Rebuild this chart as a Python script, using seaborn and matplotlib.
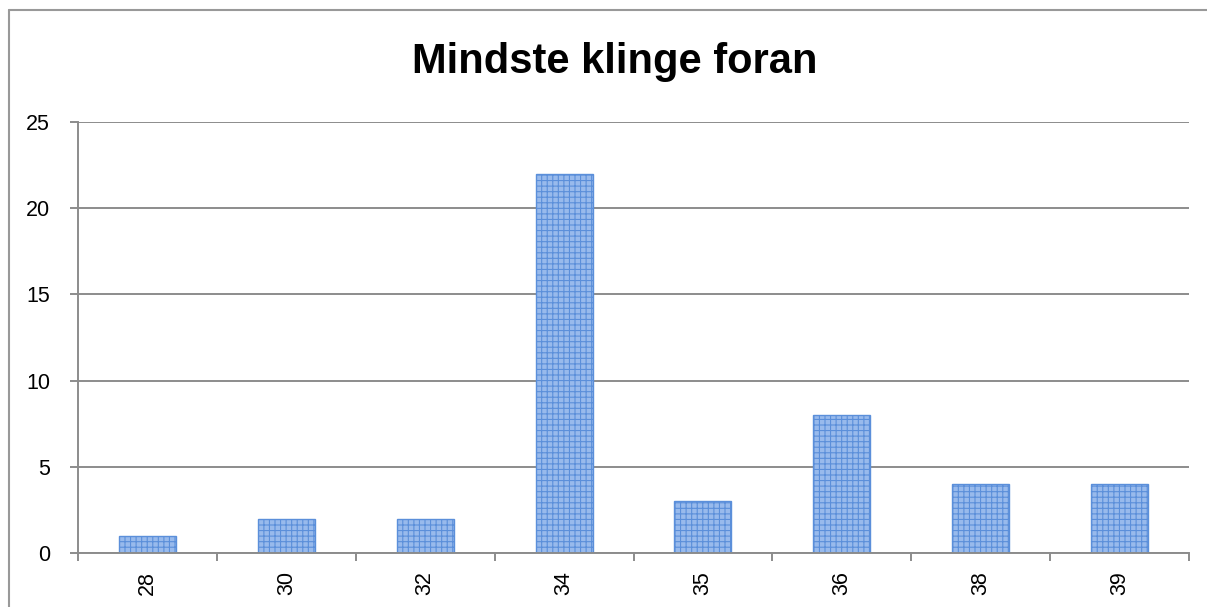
import matplotlib
matplotlib.use("Agg")
import matplotlib.pyplot as plt
import seaborn as sns
import pandas as pd
import numpy as np
from matplotlib.lines import Line2D

categories = ["28", "30", "32", "34", "35", "36", "38", "39"]
values = [1, 2, 2, 22, 3, 8, 4, 4]
yticks = [0, 5, 10, 15, 20, 25]
title = "Mindste klinge foran"

sns.set_theme(style="white")
plt.rcParams['font.family'] = ['Liberation Sans', 'DejaVu Sans']
plt.rcParams['hatch.linewidth'] = 0.8

df = pd.DataFrame({"cat": categories, "val": values})

fig = plt.figure(figsize=(12.07, 6.07), dpi=100)
ax = fig.add_axes([78/1207, 54/607, (1189-78)/1207, (553-122)/607])

sns.barplot(data=df, x="cat", y="val", order=categories, ax=ax,
            color="#98BAEC", width=0.41, saturation=1)
for p in ax.patches:
    p.set_hatch("+++")
    p.set_edgecolor("#5B8FDA")
    p.set_linewidth(1.0)

ax.set_ylim(0, 25)
ax.set_xlim(-0.5, len(categories) - 0.5)
ax.set_yticks(yticks)
ax.set_yticklabels([str(t) for t in yticks], fontsize=15.5, color="black")
ax.yaxis.grid(True, color="#8C8C8C", linewidth=1.4)
ax.set_axisbelow(True)
ax.set_xlabel("")
ax.set_ylabel("")
ax.set_xticks(range(len(categories)))
ax.set_xticklabels(categories, rotation=90, fontsize=15.5, color="black")
ax.set_xticks(np.arange(-0.5, len(categories)), minor=True)
ax.tick_params(axis="x", which="major", length=0, pad=13)
ax.tick_params(axis="x", which="minor", length=6, width=1.4, color="#8C8C8C", direction="out", bottom=True)
ax.tick_params(axis="y", length=6, width=1.4, color="#8C8C8C", direction="out", left=True, pad=14)
for s in ["top", "right"]:
    ax.spines[s].set_visible(False)
for s in ["left", "bottom"]:
    ax.spines[s].set_color("#8C8C8C")
    ax.spines[s].set_linewidth(1.4)

fig.text(615/1207, 1 - 62/607, title, ha="center", va="center",
         fontsize=30, fontweight="bold", color="black")

# outer chart frame
fig.add_artist(Line2D([9/1207, 9/1207], [0, 1 - 10/607], transform=fig.transFigure,
                      color="#999999", linewidth=1.5))
fig.add_artist(Line2D([9/1207, 1], [1 - 10/607, 1 - 10/607], transform=fig.transFigure,
                      color="#999999", linewidth=1.5))

fig.savefig("out.png", dpi=100)
